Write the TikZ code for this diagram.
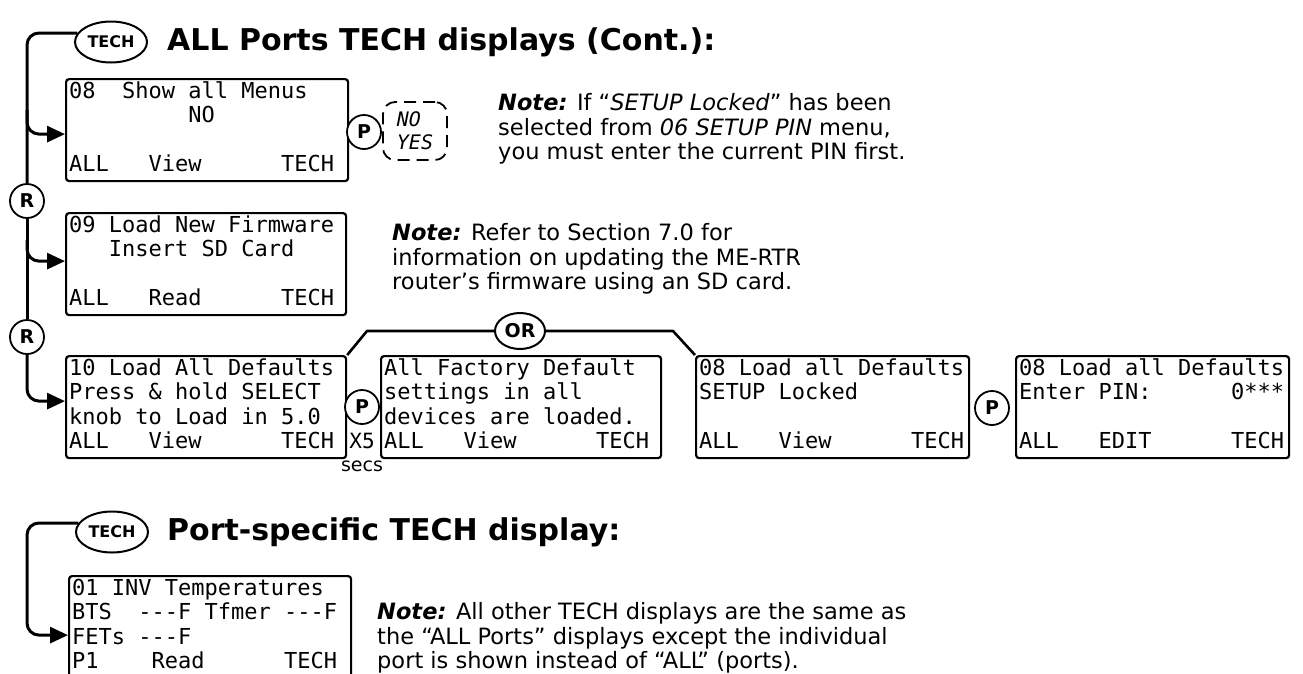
\documentclass[tikz,border=0pt]{standalone}
\usepackage{fontspec}
\setmainfont{DejaVu Sans}
\newfontfamily\lcd{DejaVu Sans Mono}
\usetikzlibrary{arrows.meta,shapes.geometric}
\newcommand\lcdfont{\lcd\fontsize{22}{24.4}\selectfont}
\newcommand\dsh{-\kern0pt-\kern0pt-}
\newcommand\mkscreen[9][102]{%
  \node[lcdbox, minimum width=#5, minimum height=#1] (#2) at (#3,#4) {};
  \node[lcdtxt] (#2t) at ([shift={(4,3)}]#2.north west) {\strut#6\\#7\\#8\\#9\strut};
}
\tikzset{
  conn/.style={line width=3pt},
  arr/.style={-{Triangle[length=18pt,width=16pt]}},
  lcdbox/.style={draw, line width=2.2pt, rounded corners=3pt, anchor=north west, inner sep=0pt},
  lcdtxt/.style={anchor=north west, align=left, inner sep=0pt, font=\lcdfont},
  bub/.style={circle, draw, line width=1.8pt, minimum size=34pt, inner sep=0pt, fill=white, font=\bfseries\fontsize{19}{22}\selectfont},
  techel/.style={ellipse, draw, line width=2pt, minimum width=72pt, minimum height=41pt, inner sep=0pt, font=\bfseries\fontsize{16}{19}\selectfont},
  notetxt/.style={anchor=north west, align=left, inner sep=0pt, font=\fontsize{22.5}{23.5}\selectfont},
  ttl/.style={anchor=base west, inner sep=0pt, font=\bfseries\fontsize{30}{36}\selectfont},
}
\begin{document}
\begin{tikzpicture}[x=1pt,y=-1pt]
\useasboundingbox (0,0) rectangle (1303,673);
\clip (0,0) rectangle (1303,673);
\fill[white] (0,0) rectangle (1303,673);

% ---------- top section ----------
\node[techel] (tech1) at (111,42) {TECH};
\node[ttl] (title1) at (167,50) {ALL Ports TECH displays (Cont.):};

\mkscreen{b08}{65}{78}{282}{08~~Show all Menus}{~~~~~~~~~NO}{~}{ALL~~~View~~~~~~TECH}
\mkscreen{b09}{65}{212}{280}{09 Load New Firmware}{~~~Insert SD Card}{~}{ALL~~~Read~~~~~~TECH}
\mkscreen{b10}{65}{355}{280}{10 Load All Defaults}{Press \& hold SELECT}{knob to Load in 5.0}{ALL~~~View~~~~~~TECH}
\mkscreen{b2}{380}{355}{280}{All Factory Default}{settings in all}{devices are loaded.}{ALL~~~View~~~~~~TECH}
\mkscreen{b3}{695}{355}{273}{08 Load all Defaults}{SETUP Locked}{~}{ALL~~~View~~~~~~TECH}
\mkscreen{b4}{1015}{355}{273}{08 Load all Defaults}{Enter PIN:~~~~~~0***}{~}{ALL~~~EDIT~~~~~~TECH}

\node[bub] (r1) at (27,201) {R};
\node[bub] (r2) at (27,337) {R};
\coordinate (j1) at (27,110);
\coordinate (j2) at (27,240);

\draw[conn, rounded corners=12pt] (tech1.165) -| (r1);
\draw[conn, arr, rounded corners=12pt] (j1) |- ([yshift=-4pt]b08.west);
\draw[conn] (r1) -- (r2);
\draw[conn, arr, rounded corners=12pt] (j2) |- ([yshift=3pt]b09.west);
\draw[conn, arr, rounded corners=12pt] (r2) |- ([yshift=6pt]b10.west);

\node[bub] (p1) at (364,132) {P};
\node[draw, dashed, dash pattern=on 12pt off 7pt, line width=1.8pt, rounded corners=12pt,
      minimum width=64pt, minimum height=58pt, align=left, inner sep=0pt,
      font=\lcd\itshape\fontsize{20}{23}\selectfont] (opts) at (415,131) {NO\\YES};

\node[bub] (p2) at (362,407) {P};
\node[anchor=base, inner sep=0pt, font=\lcd\fontsize{21}{24}\selectfont] (x5) at (362,448) {X5};
\node[anchor=base, inner sep=0pt, font=\fontsize{19}{22}\selectfont] (secs) at (362,471) {secs};
\node[bub] (p3) at (992,408) {P};

\node[ellipse, draw, line width=2pt, minimum width=50pt, minimum height=36pt, inner sep=0pt,
      font=\bfseries\fontsize{19}{22}\selectfont] (or) at (520,331) {OR};
\coordinate (c1) at (367,331);
\coordinate (c2) at (673,331);
\draw[line width=2.6pt, line join=round] (b10.north east) -- (c1) -- (or);
\draw[line width=2.6pt, line join=round] (or) -- (c2) -- (b3.north west);

\node[notetxt] (n1) at (498,93.5) {\strut\textbf{\textit{Note:}} If “\textit{SETUP Locked}” has been\\
  selected from \textit{06 SETUP PIN} menu,\\ you must enter the current PIN first.};
\node[notetxt] (n2) at (392,223.5) {\strut\textbf{\textit{Note:}} Refer to Section 7.0 for\\
  information on updating the ME-RTR\\ router’s firmware using an SD card.};

% ---------- bottom section ----------
\node[techel] (tech2) at (112,532) {TECH};
\node[ttl] (title2) at (167,540) {Port-specific TECH display:};
\mkscreen[104]{b5}{68}{575}{282}{01 INV Temperatures}{BTS~~\dsh F Tfmer \dsh F}{FETs \dsh F}{P1~~~~Read~~~~~~TECH}
\coordinate (j5) at (27,600);
\draw[conn, arr, rounded corners=12pt] (tech2.165) -| (j5) |- ([yshift=-7pt]b5.west);

\node[notetxt] (n3) at (377,602.5) {\strut\textbf{\textit{Note:}} All other TECH displays are the same as\\
  the “ALL Ports” displays except the individual\\ port is shown instead of “ALL” (ports).};
\end{tikzpicture}
\end{document}
